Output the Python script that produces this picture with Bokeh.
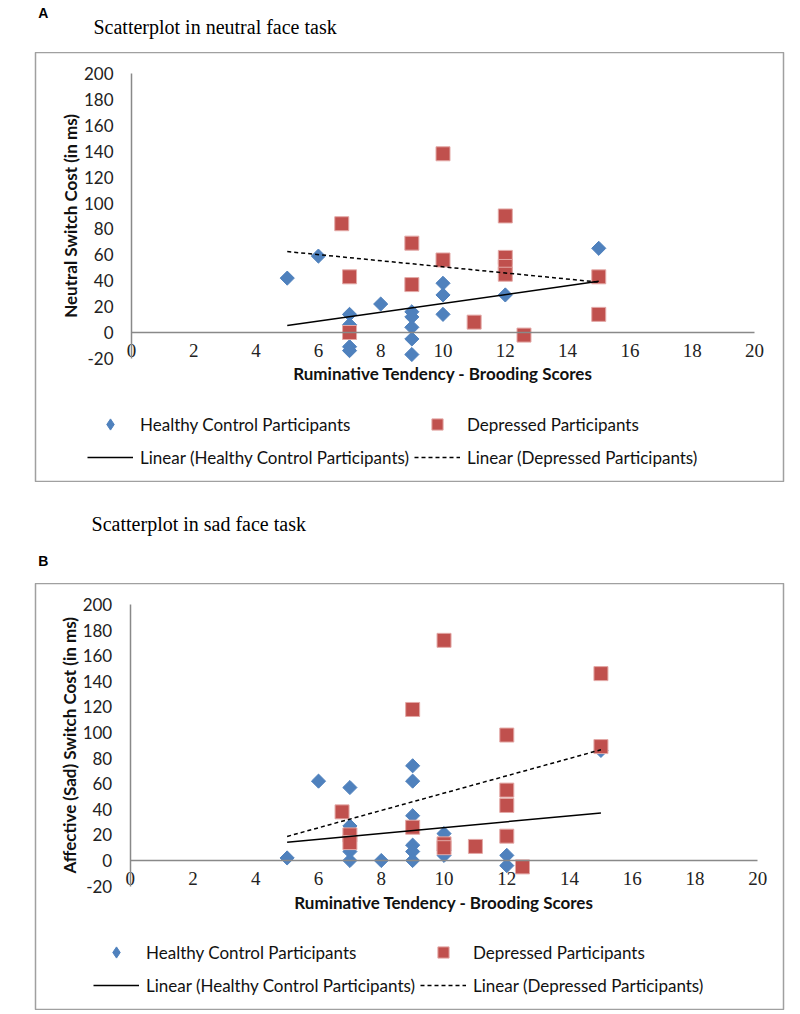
import math
from bokeh.plotting import figure
from bokeh.models import Range1d, LinearAxis, FixedTicker, Label, Legend, LegendItem
from bokeh.layouts import column
from bokeh.embed import file_html
from bokeh.resources import INLINE
from bokeh.core.properties import value

# ---------------- data ----------------
x_ticks = [0, 2, 4, 6, 8, 10, 12, 14, 16, 18, 20]
y_ticks = [-20, 0, 20, 40, 60, 80, 100, 120, 140, 160, 180, 200]
x_tick_labels = [str(t) for t in x_ticks]
y_tick_labels = [str(t) for t in y_ticks]

series_names = ["Healthy Control Participants", "Depressed Participants"]
trend_names = ["Linear (Healthy Control Participants)", "Linear (Depressed Participants)"]

# Panel A: neutral face task
a_healthy_x = [5, 6, 7, 7, 7, 7, 8, 9, 9, 9, 9, 9, 10, 10, 10, 12, 15]
a_healthy_y = [42, 59, 14, 6, -11, -14, 22, 16, 12, 4, -5, -17, 38, 29, 14, 29, 65]
a_depressed_x = [6.75, 7, 7, 9, 9, 10, 10, 11, 12, 12, 12, 12, 12.6, 15, 15]
a_depressed_y = [84, 43, 0, 69, 37, 138, 56, 8, 90, 58, 51, 45, -2, 43, 14]
a_trend_x = [5, 15]
a_healthy_trend = [5.4, 39.5]
a_depressed_trend = [62.5, 38.9]

# Panel B: sad face task
b_healthy_x = [5, 6, 7, 7, 7, 7, 8, 9, 9, 9, 9, 9, 9, 10, 10, 10, 12, 12, 15]
b_healthy_y = [2, 62, 57, 27, 7, 0, 0, 74, 62, 35, 12, 7, 0, 21, 8, 4, 4, -4, 86]
b_depressed_x = [6.75, 7, 7, 9, 9, 10, 10, 10, 11, 12, 12, 12, 12, 12.5, 15, 15]
b_depressed_y = [38, 20, 14, 118, 26, 172, 13, 10, 11, 98, 55, 43, 19, -5, 146, 89]
b_trend_x = [5, 15]
b_healthy_trend = [14.3, 37.2]
b_depressed_trend = [18.8, 86.5]

# ---------------- style ----------------
BLUE = "#4F81BD"
RED = "#C0504D"
AXIS_GRAY = "#898989"
BOX_GRAY = "#a0a0a0"
SANS = "Lato"
SERIF = "Liberation Serif"
W = 800
PAGE = 0


def header(height, texts):
    p = figure(width=W, height=height, x_range=Range1d(0, W), y_range=Range1d(height, 0),
               x_axis_type=None, y_axis_type=None, toolbar_location=None,
               output_backend="svg", min_border=0, title=None)
    p.outline_line_color = None
    p.grid.visible = False
    for t in texts:
        p.text(x=[t["x"]], y=[t["y"]], text=[t["text"]], text_font=value(t["font"]),
               text_font_size=t["size"], text_font_style=t.get("style", "normal"),
               text_baseline=t["baseline"], text_align="left", text_color="#000000")
    return p


def panel(geom, hx, hy, dx, dy, tx, th, td, ylabel):
    fl, fr, ft, fb = geom["frame"]
    x0px, x20px, y0px, ymaxpx = geom["x0"], geom["x20"], geom["y0"], geom["ymax"]
    xs = (x20px - x0px) / (x_ticks[-1] - x_ticks[0])
    ys = (y0px - ymaxpx) / (y_ticks[-1] - 0)
    xr = Range1d(x_ticks[0] - (x0px - fl) / xs, x_ticks[-1] + (fr - x20px) / xs)
    yr = Range1d(0 - (fb - y0px) / ys, y_ticks[-1] + (ymaxpx - ft) / ys)

    p = figure(width=W, height=fb - ft, x_range=xr, y_range=yr,
               x_axis_type=None, y_axis_type=None, toolbar_location=None,
               output_backend="svg", title=None,
               min_border_left=fl - PAGE, min_border_right=PAGE + W - fr,
               min_border_top=0, min_border_bottom=0)
    p.outline_line_color = BOX_GRAY
    p.outline_line_width = 1.5
    p.background_fill_color = "white"
    p.border_fill_color = "white"

    xa = LinearAxis(fixed_location=0, bounds=(x_ticks[0], x_ticks[-1]),
                    ticker=FixedTicker(ticks=x_ticks),
                    major_label_overrides=dict(zip(x_ticks, x_tick_labels)))
    xa.axis_line_color = AXIS_GRAY
    xa.axis_line_width = 1.5
    xa.major_tick_out = 0
    xa.major_tick_in = 0
    xa.minor_tick_out = 0
    xa.minor_tick_in = 0
    xa.major_label_standoff = 11
    xa.major_label_text_font = SERIF
    xa.major_label_text_font_size = "19px"
    xa.major_label_text_color = "#222222"
    p.add_layout(xa, "below")

    ya = LinearAxis(fixed_location=0, bounds=(y_ticks[0], y_ticks[-1]),
                    ticker=FixedTicker(ticks=y_ticks),
                    major_label_overrides=dict(zip(y_ticks, y_tick_labels)))
    ya.axis_line_color = AXIS_GRAY
    ya.axis_line_width = 1.5
    ya.major_tick_out = 0
    ya.major_tick_in = 0
    ya.minor_tick_out = 0
    ya.minor_tick_in = 0
    ya.major_label_standoff = 18
    ya.major_label_text_font = SANS
    ya.major_label_text_font_size = "17px"
    ya.major_label_text_color = "#222222"
    p.add_layout(ya, "left")

    # legend key glyph (narrow diamond), fully hidden beneath the plotted markers
    r_h_key = p.scatter(hx, hy, marker="diamond", size=9,
                        fill_color=BLUE, line_color=BLUE, line_width=1)
    r_h = p.scatter(hx, hy, marker="square", angle=math.pi / 4, size=10,
                    fill_color=BLUE, line_color=BLUE, line_width=1)
    r_d = p.scatter(dx, dy, marker="square", size=14,
                    fill_color=RED, line_color="#e3a9a7", line_width=1)
    r_th = p.line(tx, th, line_color="black", line_width=1.5)
    r_td = p.line(tx, td, line_color="black", line_width=1.5, line_dash="4 3")

    xmid = (x_ticks[0] + x_ticks[-1]) / 2
    ymid = (y_ticks[0] + y_ticks[-1]) / 2
    p.add_layout(Label(x=xmid, y=0, y_offset=-geom["xtitle_off"],
                       text="Ruminative Tendency - Brooding Scores",
                       text_font=SANS, text_font_size="17px", text_font_style="bold",
                       text_align="center", text_baseline="middle", text_color="#111111"))
    p.add_layout(Label(x=0, y=ymid, x_offset=-geom["ytitle_off"], angle=90, angle_units="deg",
                       text=ylabel,
                       text_font=SANS, text_font_size="17px", text_font_style="bold",
                       text_align="center", text_baseline="middle", text_color="#111111"))

    legend = Legend(items=[LegendItem(label=series_names[0], renderers=[r_h_key]),
                           LegendItem(label=series_names[1], renderers=[r_d]),
                           LegendItem(label=trend_names[0], renderers=[r_th]),
                           LegendItem(label=trend_names[1], renderers=[r_td])],
                    location=geom["legend_loc"], orientation="horizontal", ncols=2,
                    glyph_width=46, glyph_height=28, label_height=28, label_standoff=7,
                    spacing=5, padding=0, margin=0,
                    label_text_font=SANS, label_text_font_size="17px",
                    label_text_color="#111111",
                    border_line_color=None, background_fill_alpha=0)
    p.add_layout(legend, "center")
    return p


geom_a = dict(frame=(35, 783, 52, 482), x0=131, x20=754, y0=332, ymax=73,
              xtitle_off=41, ytitle_off=61, legend_loc=(52, 11))
geom_b = dict(frame=(35, 793, 583, 1010), x0=131, x20=767, y0=860, ymax=604,
              xtitle_off=42, ytitle_off=61, legend_loc=(58, 11))

head_a = header(52, [
    dict(x=3, y=12, text="A", font="Liberation Sans", size="14px", style="bold", baseline="middle"),
    dict(x=62, y=26.7, text="Scatterplot in neutral face task", font=SERIF, size="20px", baseline="alphabetic"),
])
body_a = panel(geom_a, a_healthy_x, a_healthy_y, a_depressed_x, a_depressed_y,
               a_trend_x, a_healthy_trend, a_depressed_trend, "Neutral Switch Cost (in ms)")
head_b = header(101, [
    dict(x=60, y=41.3, text="Scatterplot in sad face task", font=SERIF, size="20px", baseline="alphabetic"),
    dict(x=3, y=78, text="B", font="Liberation Sans", size="14px", style="bold", baseline="middle"),
])
body_b = panel(geom_b, b_healthy_x, b_healthy_y, b_depressed_x, b_depressed_y,
               b_trend_x, b_healthy_trend, b_depressed_trend, "Affective (Sad) Switch Cost (in ms)")

layout = column(head_a, body_a, head_b, body_b, spacing=0)
open("out.html", "w").write(file_html(layout, INLINE))
